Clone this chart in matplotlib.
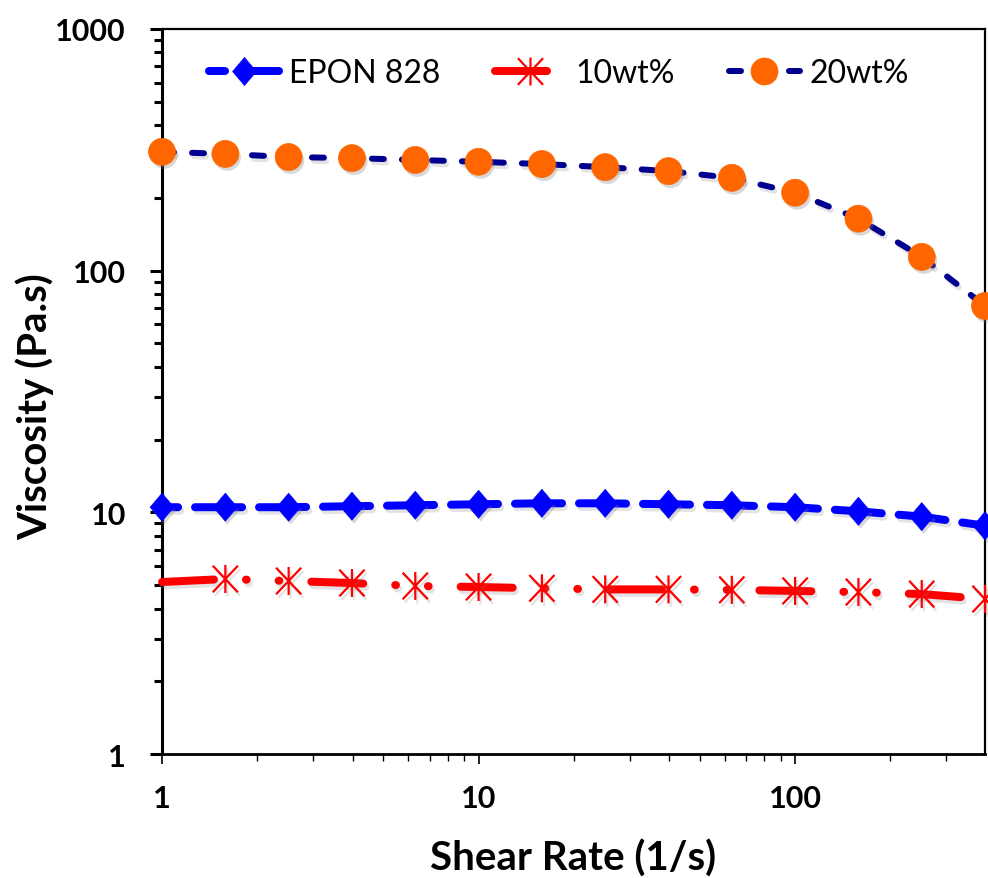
import matplotlib
matplotlib.use("Agg")
import matplotlib.pyplot as plt
import matplotlib.patheffects as pe
from matplotlib.lines import Line2D
from matplotlib.path import Path
from matplotlib.ticker import LogLocator, NullFormatter, FixedLocator, FixedFormatter

plt.rcParams['font.family'] = ['Lato', 'DejaVu Sans']
plt.rcParams['lines.scale_dashes'] = False

# Shear rate (1/s): five points per decade
shear_rate = [1.0, 1.585, 2.512, 3.981, 6.310, 10.0, 15.85, 25.12, 39.81, 63.10,
              100.0, 158.5, 251.2, 398.1]

# Viscosity (Pa.s)
epon_828 = [10.5, 10.5, 10.5, 10.6, 10.7, 10.8, 10.9, 10.9, 10.8, 10.7,
            10.5, 10.1, 9.6, 8.8]
wt10 = [5.15, 5.30, 5.20, 5.10, 4.96, 4.91, 4.85, 4.80, 4.80, 4.78,
        4.73, 4.68, 4.59, 4.38]
wt20 = [310, 304, 295, 292, 287, 282, 276, 268, 258, 242,
        210, 164, 114, 71.4]

series_names = ['EPON 828', '10wt%', '20wt%']
x_ticks = [1, 10, 100]
x_tick_labels = ['1', '10', '100']
y_ticks = [1, 10, 100, 1000]
y_tick_labels = ['1', '10', '100', '1000']

PX = 0.72  # points per pixel at dpi 100

# Marker shapes
diamond = Path([(0, 1), (0.85, 0), (0, -1), (-0.85, 0), (0, 1)],
               [Path.MOVETO, Path.LINETO, Path.LINETO, Path.LINETO, Path.CLOSEPOLY])
star = Path([(0, -1), (0, 1), (-0.9, -0.95), (0.9, 0.95), (-0.9, 0.95), (0.9, -0.95)],
            [Path.MOVETO, Path.LINETO, Path.MOVETO, Path.LINETO, Path.MOVETO, Path.LINETO])

# Line and marker styles per series
styles = [
    dict(color='#0000FF', lw=8 * PX, ls=(31 * PX, (47 * PX, 17 * PX)),
         marker=diamond, ms=28 * PX, mfc='#0000FF', mec='#0000FF', mew=0.5),
    dict(color='#FF0000', lw=8 * PX,
         ls=(0, (52 * PX, 32 * PX, 0.7 * PX, 32 * PX, 0.7 * PX, 32 * PX)),
         marker=star, ms=28 * PX, mfc='none', mec='#FF0000', mew=1.6),
    dict(color='#000090', lw=6 * PX, ls=(0, (12 * PX, 18 * PX)),
         marker='o', ms=27 * PX, mfc='#FF6600', mec='#FF6600', mew=0.5),
]

fig = plt.figure(figsize=(9.88, 8.79), dpi=100)
ax = fig.add_axes([0.164, 0.141, 0.833, 0.825])

line_shadow = [pe.SimpleLineShadow(offset=(1.5, -2.5), shadow_color='0.5', alpha=0.22), pe.Normal()]
fill_shadow = [pe.SimplePatchShadow(offset=(1.5, -2.5), shadow_rgbFace='0.5', alpha=0.3), pe.Normal()]

handles = []
for i, (yvals, st) in enumerate(zip([epon_828, wt10, wt20], styles)):
    # connecting line
    ln, = ax.plot(shear_rate, yvals, color=st['color'], lw=st['lw'], ls=st['ls'],
                  dash_capstyle='round', solid_capstyle='round', clip_on=False,
                  zorder=3 + i)
    ln.set_path_effects(line_shadow)
    # markers (the 10wt% series has no marker at the first point)
    every = slice(1, None) if i == 1 else None
    mk, = ax.plot(shear_rate, yvals, ls='none', marker=st['marker'], ms=st['ms'],
                  mfc=st['mfc'], mec=st['mec'], mew=st['mew'], markevery=every,
                  clip_on=False, zorder=3.5 + i)
    mk.set_path_effects(line_shadow if i == 1 else fill_shadow)
    handles.append(Line2D([], [], color=st['color'], lw=st['lw'], ls=st['ls'],
                          dash_capstyle='round', solid_capstyle='round',
                          marker=st['marker'], ms=st['ms'], mfc=st['mfc'],
                          mec=st['mec'], mew=st['mew'], label=series_names[i]))

ax.set_xscale('log')
ax.set_yscale('log')
ax.set_xlim(1, 398.1)
ax.set_ylim(1, 1000)

ax.xaxis.set_major_locator(FixedLocator(x_ticks))
ax.xaxis.set_major_formatter(FixedFormatter(x_tick_labels))
ax.yaxis.set_major_locator(FixedLocator(y_ticks))
ax.yaxis.set_major_formatter(FixedFormatter(y_tick_labels))
ax.xaxis.set_minor_locator(LogLocator(base=10, subs=range(2, 10), numticks=20))
ax.yaxis.set_minor_locator(LogLocator(base=10, subs=range(2, 10), numticks=20))
ax.xaxis.set_minor_formatter(NullFormatter())
ax.yaxis.set_minor_formatter(NullFormatter())

ax.tick_params(axis='x', which='major', direction='out', length=10 * PX, width=1.2,
               pad=20 * PX, labelsize=22, colors='black')
ax.tick_params(axis='x', which='minor', direction='out', length=7 * PX, width=1.0)
ax.tick_params(axis='y', which='major', direction='out', length=12 * PX, width=2.2,
               pad=24 * PX, labelsize=22)
ax.tick_params(axis='y', which='minor', direction='out', length=8 * PX, width=2.2)
for lab in ax.get_xticklabels() + ax.get_yticklabels():
    lab.set_fontweight('bold')

ax.spines['left'].set_linewidth(2.2)
ax.spines['bottom'].set_linewidth(2.0)
ax.spines['top'].set_linewidth(1.6)
ax.spines['right'].set_linewidth(1.6)

ax.set_xlabel('Shear Rate (1/s)', fontsize=29, fontweight='bold', labelpad=19)
ax.set_ylabel('Viscosity (Pa.s)', fontsize=29, fontweight='bold', va='center')
ax.yaxis.set_label_coords(-0.155, 0.48)

ax.legend(handles=handles, loc='upper center', bbox_to_anchor=(0.482, 0.99), ncol=3,
          frameon=False, fontsize=23, handlelength=2.2, handletextpad=0.3,
          columnspacing=1.72, borderaxespad=0.3)

fig.savefig('out.png', dpi=100)
